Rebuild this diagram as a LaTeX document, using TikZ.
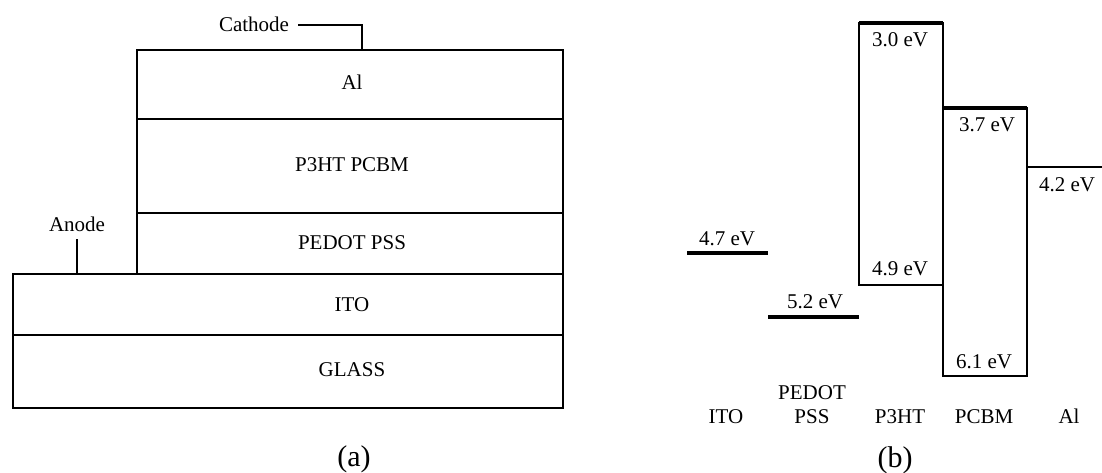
\documentclass[tikz,border=0pt]{standalone}
\usepackage{fontspec}
\setmainfont{Liberation Serif}
\tikzset{
  lbl/.style={font=\fontsize{21}{24}\selectfont, inner sep=0pt, text height=1.5ex, text depth=0.2ex, yshift=-4pt},
  sublbl/.style={font=\fontsize{30}{34}\selectfont, inner sep=0pt},
  layer/.style={line width=2.6pt},
  level/.style={line width=3.6pt},
  lead/.style={line width=1.3pt}
}
\begin{document}
\begin{tikzpicture}[x=1pt,y=-1pt]
    \useasboundingbox (0,0) rectangle (1102,473);

    % (a) device stack
    \draw[layer] (137,50) rectangle (563,274);
    \draw[layer] (137,119) -- (563,119);
    \draw[layer] (137,213) -- (563,213);
    \draw[layer] (13,274) rectangle (563,408);
    \draw[layer] (13,335) -- (563,335);
    \node[lbl] (al) at (352,83) {Al};
    \node[lbl] (blend) at (352,165) {P3HT PCBM};
    \node[lbl] (pedot) at (352,243) {PEDOT PSS};
    \node[lbl] (ito) at (352,305) {ITO};
    \node[lbl] (glass) at (352,370) {GLASS};
    \node[lbl] (cathode) at (254,25) {Cathode};
    \coordinate (v1) at (362,50);
    \draw[lead] (cathode.east) ++(9,-4) -| (v1);
    \node[lbl] (anode) at (77,225) {Anode};
    \coordinate (v2) at (77,274);
    \draw[lead] (anode.south) ++(0,6) -- (v2);
    \node[sublbl] (capa) at (354,459) {(a)};

    % (b) energy levels
    \draw[level] (687,253) -- (768,253);
    \draw[level] (768,317) -- (859,317);
    \draw[line width=2pt] (859,23) rectangle (943,285);
    \draw[level] (859,23) -- (943,23);
    \draw[line width=2pt] (943,108) rectangle (1027,376);
    \draw[level] (943,108) -- (1027,108);
    \draw[line width=2.4pt] (1027,167) -- (1102,167);
    \node[lbl] (e1) at (727,239) {4.7 eV};
    \node[lbl] (e2) at (815,302) {5.2 eV};
    \node[lbl] (e3) at (900,40) {3.0 eV};
    \node[lbl] (e4) at (900,269) {4.9 eV};
    \node[lbl] (e5) at (987,125) {3.7 eV};
    \node[lbl] (e6) at (984,362) {6.1 eV};
    \node[lbl] (e7) at (1067,185) {4.2 eV};
    \node[lbl] (n1) at (726,417) {ITO};
    \node[lbl] (n2) at (812,393) {PEDOT};
    \node[lbl] (n3) at (812,417) {PSS};
    \node[lbl] (n4) at (900,417) {P3HT};
    \node[lbl] (n5) at (984,417) {PCBM};
    \node[lbl] (n6) at (1069,417) {Al};
    \node[sublbl] (capb) at (895,460) {(b)};
\end{tikzpicture}
\end{document}
